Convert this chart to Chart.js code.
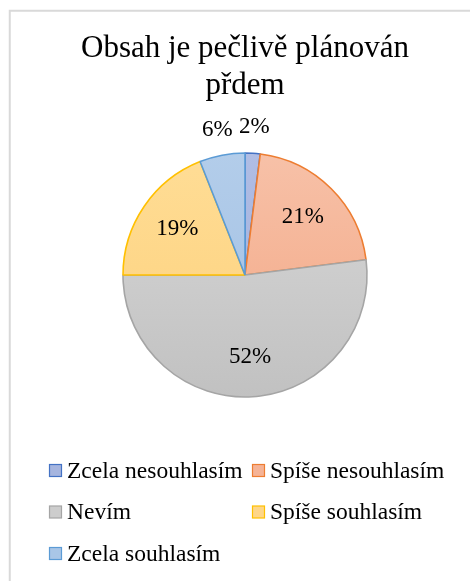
<!DOCTYPE html>
<html>
<head>
<meta charset="utf-8">
<script src="https://cdn.jsdelivr.net/npm/chart.js@4/dist/chart.umd.min.js"></script>
<style>
  html, body { margin: 0; padding: 0; background: #ffffff; }
  #wrap { width: 470px; height: 581px; position: relative; }
</style>
</head>
<body>
<div id="wrap"><canvas id="c" width="470" height="581"></canvas></div>
<script>
// ---- data ----
const titleLines = ['Obsah je pečlivě plánován', 'přdem'];
const categories = ['Zcela nesouhlasím', 'Spíše nesouhlasím', 'Nevím', 'Spíše souhlasím', 'Zcela souhlasím'];
const values = [2, 21, 52, 19, 6];

// ---- styles ----
const FONT = "'Times New Roman', 'Liberation Serif', serif";
const borderColors = ['#4472C4', '#ED7D31', '#A5A5A5', '#FFC000', '#5B9BD5'];
const fillTop = ['#b0bde4', '#f7c1a8', '#d8d8d8', '#ffdd96', '#b3cdea'];
const fillBottom = ['#9dadda', '#f3a683', '#c1c1c1', '#fdd07a', '#a0bfe3'];
const fillFlat = ['#a6b5df', '#f5b396', '#cdcdcd', '#fed688', '#a9c6e7'];
const PIE_RADIUS = 122;

function sliceFill(c) {
  const ch = c.chart, a = ch.chartArea, i = c.dataIndex;
  if (!a) return fillFlat[i];
  const cy = (a.top + a.bottom) / 2;
  const g = ch.ctx.createLinearGradient(0, cy - PIE_RADIUS, 0, cy + PIE_RADIUS);
  g.addColorStop(0, fillTop[i]);
  g.addColorStop(1, fillBottom[i]);
  return g;
}

const frame = {
  id: 'frame',
  beforeDraw(chart) {
    const ctx = chart.ctx;
    ctx.save();
    ctx.fillStyle = '#ffffff';
    ctx.fillRect(0, 0, chart.width, chart.height);
    ctx.strokeStyle = '#d9d9d9';
    ctx.lineWidth = 2;
    ctx.strokeRect(9.75, 10.75, chart.width + 20, chart.height + 20);
    ctx.restore();
  }
};

const sliceLabels = {
  id: 'sliceLabels',
  afterDatasetsDraw(chart) {
    const ctx = chart.ctx;
    const meta = chart.getDatasetMeta(0);
    const data = chart.data.datasets[0].data;
    ctx.save();
    ctx.font = '23px ' + FONT;
    ctx.fillStyle = '#000000';
    ctx.textAlign = 'center';
    ctx.textBaseline = 'middle';
    meta.data.forEach((arc, i) => {
      const p = arc.getProps(['x', 'y', 'startAngle', 'endAngle', 'outerRadius'], true);
      const mid = (p.startAngle + p.endAngle) / 2;
      const r = data[i] >= 10 ? p.outerRadius * 0.67 : p.outerRadius + 26;
      ctx.fillText(data[i] + '%', p.x + Math.cos(mid) * r, p.y + Math.sin(mid) * r);
    });
    ctx.restore();
  }
};

const gridLegend = {
  id: 'gridLegend',
  afterDraw(chart) {
    const ctx = chart.ctx;
    const labels = chart.data.labels;
    const left = 49.5, colW = 203, top = 470.5, rowH = 41.5, box = 12;
    ctx.save();
    ctx.font = '23.5px ' + FONT;
    ctx.textBaseline = 'middle';
    ctx.textAlign = 'left';
    labels.forEach((lab, i) => {
      const col = i % 2, row = Math.floor(i / 2);
      const x = left + col * colW, y = top + row * rowH;
      ctx.fillStyle = fillFlat[i];
      ctx.fillRect(x, y - box / 2, box, box);
      ctx.strokeStyle = borderColors[i];
      ctx.lineWidth = 1.2;
      ctx.strokeRect(x, y - box / 2, box, box);
      ctx.fillStyle = '#000000';
      ctx.fillText(lab, x + box + 5.5, y + 1);
    });
    ctx.restore();
  }
};

new Chart(document.getElementById('c'), {
  type: 'pie',
  data: {
    labels: categories,
    datasets: [{
      data: values,
      backgroundColor: sliceFill,
      borderColor: borderColors,
      borderWidth: 1.6
    }]
  },
  options: {
    responsive: false,
    animation: false,
    events: [],
    radius: PIE_RADIUS,
    layout: { padding: { left: 20, right: 0, top: 0, bottom: 135 } },
    plugins: {
      legend: { display: false },
      tooltip: { enabled: false },
      title: {
        display: true,
        text: titleLines,
        color: '#000000',
        font: { family: FONT, size: 31, weight: 'normal', lineHeight: 37 / 31 },
        padding: { top: 30, bottom: 0 }
      }
    }
  },
  plugins: [frame, sliceLabels, gridLegend]
});
</script>
</body>
</html>
